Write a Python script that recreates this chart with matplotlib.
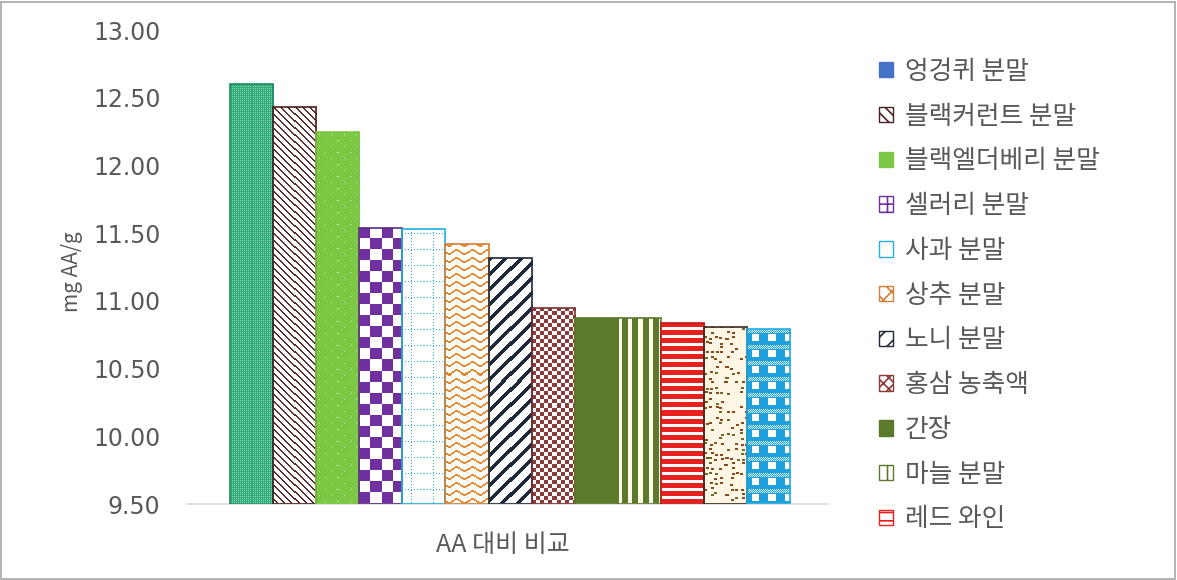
import numpy as np
import matplotlib.pyplot as plt
from matplotlib.colors import to_rgb
from matplotlib.patches import Patch, Rectangle

plt.rcParams['font.family'] = ['Noto Sans CJK KR', 'DejaVu Sans']
plt.rcParams['hatch.linewidth'] = 1.2

# 시료별 AA 환산 항산화 활성 (mg AA/g)
legend_names = ['엉겅퀴 분말', '블랙커런트 분말', '블랙엘더베리 분말', '셀러리 분말',
                '사과 분말', '상추 분말', '노니 분말', '홍삼 농축액', '간장',
                '마늘 분말', '레드 와인']
values = [12.60, 12.43, 12.25, 11.54, 11.53, 11.42, 11.32, 10.95,
          10.87, 10.87, 10.84, 10.81, 10.79]
yticks = [9.5, 10.0, 10.5, 11.0, 11.5, 12.0, 12.5, 13.0]
xlabel = 'AA 대비 비교'
ylabel = 'mg AA/g'

TXT = '#595959'


def tex(fg, bg, mask):
    img = np.empty(mask.shape + (3,))
    img[:] = to_rgb(bg)
    img[mask] = to_rgb(fg)
    return img


def confetti(y, x):
    cy, cx = y // 5, x // 5
    h = ((cx * 73856093) ^ (cy * 19349663)) % 23
    ox, oy = h % 3, (h // 3) % 3
    on = (h < 12) & ((x % 5) >= ox) & ((x % 5) < ox + 3) & ((y % 5) >= oy) & ((y % 5) < oy + 2)
    img = tex('#8b4a1c', '#fff6e6', on)
    img[on & (h % 4 == 0)] = to_rgb('#6b6b2a')
    return img


def plaid(y, x):
    sq = (x % 16 >= 5) & (x % 16 < 12) & (y % 16 >= 5) & (y % 16 < 12)
    img = tex('white', '#1ea0dc', sq)
    band = (y % 16 < 4) & ((x + y) % 2 == 0)
    img[band] = to_rgb('#e6f5fb')
    return img


# bar fills (pixel textures) and outlines
fills = [
    lambda y, x: tex('#8fd9b6', '#2daa78', (x % 2 == 0) & (y % 2 == 0)),
    lambda y, x: tex('#5a2a2a', 'white', (x - y) % 7 < 2),
    lambda y, x: tex('#c9efa0', '#7cc844', ((x % 12 == 3) & (y % 12 == 3)) | ((x % 12 == 9) & (y % 12 == 9))),
    lambda y, x: tex('#7030a0', 'white', ((x // 11) + (y // 11)) % 2 == 0),
    lambda y, x: tex('#22aee0', 'white', ((y % 16 == 4) & (x % 3 == 0)) | ((x % 21 == 9) & (y % 3 == 0))),
    lambda y, x: tex('#e8862c', 'white', (y - np.round(2 * np.sin(2 * np.pi * x / 15))) % 8 < 2),
    lambda y, x: tex('#1e2a3a', 'white', (x + y) % 15 < 5),
    lambda y, x: tex('#8c3b3b', 'white', ((x // 4) + (y // 4)) % 2 == 0),
    lambda y, x: tex('#5b7a2c', '#5b7a2c', x < 0),
    lambda y, x: tex('#5b7a2c', '#fffbea', x % 10 >= 4),
    lambda y, x: tex('#e8201e', 'white', y % 8 < 5),
    confetti,
    plaid,
]
edges = ['#1f8a5e', '#4a2020', '#7cc844', '#5a2a80', '#22aee0', '#d0803a', '#1e2a3a',
         '#7a3030', '#5b7a2c', '#5b7a2c', '#c01818', '#3a2a1a', '#22aee0']

fig = plt.figure(figsize=(11.77, 5.80), dpi=100)
ax = fig.add_axes([187 / 1177, 1 - 504 / 580, (828 - 187) / 1177, (504 - 30) / 580])

x = np.arange(len(values))
XLIM = (-1.5, 13.38)
YLIM = (9.5, 13.0)
ax.set_xlim(*XLIM)
ax.set_ylim(*YLIM)

bars = ax.bar(x, np.array(values) - YLIM[0], bottom=YLIM[0], width=1.0,
              facecolor='none', edgecolor=edges, linewidth=1.2, zorder=3)

for b, fill in zip(bars, fills):
    x0, y0 = b.get_x(), b.get_y()
    x1, y1 = x0 + b.get_width(), y0 + b.get_height()
    (px0, py0), (px1, py1) = ax.transData.transform([[x0, y0], [x1, y1]])
    w = max(int(round(px1 - px0)), 1)
    h = max(int(round(py1 - py0)), 1)
    yy, xx = np.indices((h, w))
    im = ax.imshow(fill(yy, xx), extent=(x0, x1, y0, y1), aspect='auto',
                   interpolation='nearest', zorder=2)
    im.set_clip_path(b)

ax.set_xlim(*XLIM)
ax.set_ylim(*YLIM)

ax.set_yticks(yticks)
ax.set_yticklabels([f'{t:.2f}' for t in yticks], family='DejaVu Sans')
ax.set_xticks([])
ax.tick_params(axis='y', length=0, pad=19, labelsize=17, labelcolor=TXT)
for s in ['left', 'right', 'top']:
    ax.spines[s].set_visible(False)
ax.spines['bottom'].set_color('#d9d9d9')
ax.spines['bottom'].set_linewidth(1.2)

fig.text(72 / 1177, 1 - 272 / 580, ylabel, rotation=90, ha='center', va='center',
         fontsize=15, color=TXT)
fig.text(503 / 1177, 1 - 545 / 580, xlabel, ha='center', va='center',
         fontsize=18, color=TXT)

# legend
handles = [
    Patch(facecolor='#4472c4', edgecolor='#4472c4'),
    Patch(facecolor='white', edgecolor='#4a2020', hatch='\\\\\\'),
    Patch(facecolor='#7cc844', edgecolor='#7cc844'),
    Patch(facecolor='white', edgecolor='#7030a0', hatch='++'),
    Patch(facecolor='white', edgecolor='#22aee0'),
    Patch(facecolor='white', edgecolor='#d0803a', hatch='xx'),
    Patch(facecolor='white', edgecolor='#1e2a3a', hatch='//'),
    Patch(facecolor='white', edgecolor='#8c3b3b', hatch='xxx'),
    Patch(facecolor='#5b7a2c', edgecolor='#5b7a2c'),
    Patch(facecolor='white', edgecolor='#5b7a2c', hatch='||'),
    Patch(facecolor='white', edgecolor='#e8201e', hatch='--'),
]
leg = fig.legend(handles, legend_names, loc='upper left', bbox_to_anchor=(866 / 1177, 1 - 46 / 580),
                 frameon=False, fontsize=18.5, handlelength=0.55, handleheight=0.55,
                 handletextpad=0.45, labelspacing=0.73, borderpad=0)
for t in leg.get_texts():
    t.set_color(TXT)

fig.patches.append(Rectangle((0.001, 0.002), 0.997, 0.995, transform=fig.transFigure,
                             fill=False, edgecolor='#a6a6a6', linewidth=1.2))

fig.savefig('out.png', dpi=100)
